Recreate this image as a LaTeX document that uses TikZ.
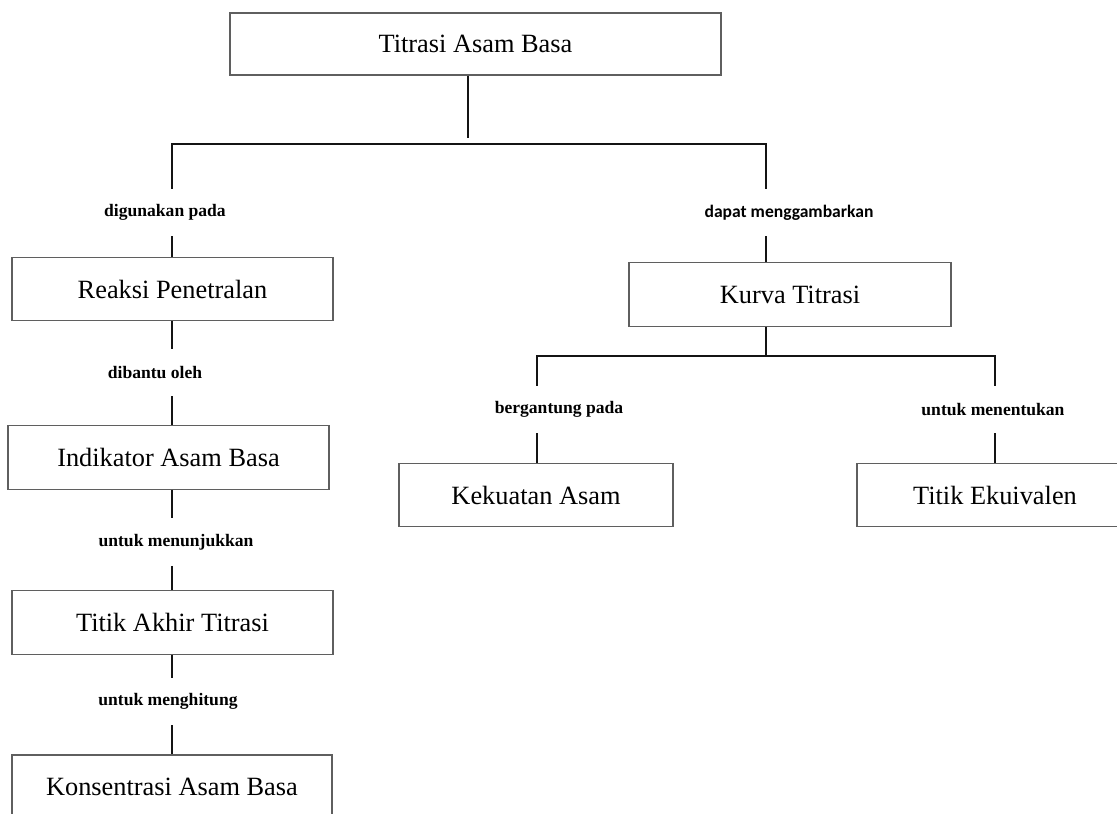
\documentclass[tikz,border=0pt]{standalone}
\usepackage{fontspec}
\setmainfont{Liberation Serif}
\newfontfamily\labelsans{Carlito}
\usepackage{tikz}
\usetikzlibrary{positioning, calc}
\usepackage{xcolor}
\definecolor{boxline}{RGB}{95,95,95}
\definecolor{linkline}{RGB}{20,20,20}
\newcommand{\linktext}[1]{{\fontsize{10}{12}\selectfont\bfseries #1}}
\newcommand{\linksans}[1]{{\labelsans\fontsize{10}{12}\selectfont\bfseries #1}}
\newcommand{\boxtext}[1]{{\fontsize{15}{18}\selectfont #1}}

\begin{document}
\begin{tikzpicture}[x=0.02cm, y=-0.02cm,
    box/.style={draw=boxline, line width=0.7pt, inner sep=0pt, minimum height=1.27cm},
    lbl/.style={inner sep=0pt, minimum height=0.94cm},
    link/.style={draw=linkline, line width=1.1pt}]
  \clip (0,0) rectangle (1117,814);
  \fill[white] (0,0) rectangle (1117,814);
  \coordinate (colT) at (468,0);
  \coordinate (colL) at (172,0);
  \coordinate (colR) at (766,0);
  \coordinate (colK) at (537,0);
  \coordinate (colE) at (995,0);
  \coordinate (tjoin) at (468,138);
  \coordinate (bar) at (468,144);
  \coordinate (split) at (766,356);

  \node[lbl] (digunakan) at (165,212.5) {\linktext{digunakan pada}};
  \node[lbl] (dibantu) at (155,372.5) {\linktext{dibantu oleh}};
  \node[lbl] (menunjukkan) at (176,542) {\linktext{untuk menunjukkan}};
  \node[lbl] (menghitung) at (168,701.5) {\linktext{untuk menghitung}};
  \node[lbl] (bergantung) at (559,409.5) {\linktext{bergantung pada}};
  \node[lbl] (menentukan) at (993,409.5) {\linktext{untuk menentukan}};
  \node[lbl] (menggambarkan) at (789,212.5) {\linksans{dapat menggambarkan}};

  \node[box, minimum width=9.82cm, minimum height=1.24cm] (titrasi) at (475.5,44) {\boxtext{Titrasi Asam Basa}};
  \node[box, minimum width=6.42cm] (reaksi) at (172.5,289) {\boxtext{Reaksi Penetralan}};
  \node[box, minimum width=6.42cm] (indikator) at (168.5,457.5) {\boxtext{Indikator Asam Basa}};
  \node[box, minimum width=6.42cm] (akhir) at (172.5,622.5) {\boxtext{Titik Akhir Titrasi}};
  \node[box, minimum width=6.40cm] (konsentrasi) at (172,786.75) {\boxtext{Konsentrasi Asam Basa}};
  \node[box, minimum width=6.44cm] (kurva) at (790,294.5) {\boxtext{Kurva Titrasi}};
  \node[box, minimum width=5.48cm] (kekuatan) at (536,495) {\boxtext{Kekuatan Asam}};
  \node[box, minimum width=5.52cm] (ekuivalen) at (995,495) {\boxtext{Titik Ekuivalen}};

  \draw[link] (titrasi.south -| colT) -- (tjoin);
  \draw[link] (digunakan.north -| colL) |- (bar) -| (menggambarkan.north -| colR);
  \draw[link] (digunakan.south -| colL) -- (reaksi.north -| colL);
  \draw[link] (reaksi.south -| colL) -- (dibantu.north -| colL);
  \draw[link] (dibantu.south -| colL) -- (indikator.north -| colL);
  \draw[link] (indikator.south -| colL) -- (menunjukkan.north -| colL);
  \draw[link] (menunjukkan.south -| colL) -- (akhir.north -| colL);
  \draw[link] (akhir.south -| colL) -- (menghitung.north -| colL);
  \draw[link] (menghitung.south -| colL) -- (konsentrasi.north -| colL);
  \draw[link] (menggambarkan.south -| colR) -- (kurva.north -| colR);
  \draw[link] (kurva.south -| colR) -- (split);
  \draw[link] (bergantung.north -| colK) |- (split) -| (menentukan.north -| colE);
  \draw[link] (bergantung.south -| colK) -- (kekuatan.north -| colK);
  \draw[link] (menentukan.south -| colE) -- (ekuivalen.north -| colE);
\end{tikzpicture}
\end{document}
